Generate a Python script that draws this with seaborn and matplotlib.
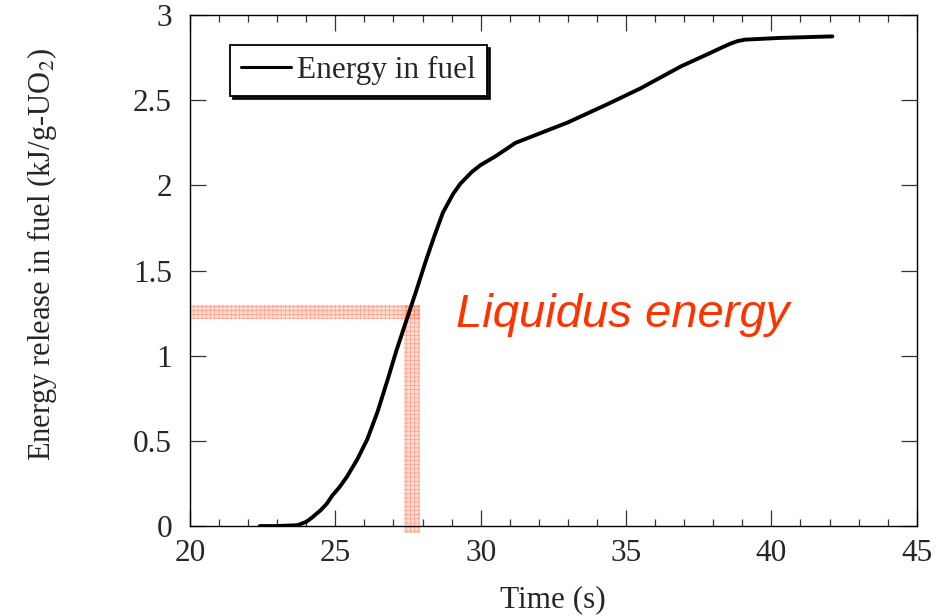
import matplotlib
matplotlib.use("Agg")
import matplotlib.pyplot as plt
from matplotlib.ticker import MultipleLocator
import pandas as pd
import seaborn as sns

# Fuel energy release versus time
time_s = [22.4, 23.0, 23.7, 24.0, 24.2, 24.5, 24.7, 24.9, 25.15, 25.4, 25.75,
          26.1, 26.45, 26.8, 27.1, 27.45, 27.8, 28.1, 28.4, 28.7, 29.05, 29.3,
          29.7, 30.0, 30.5, 31.2, 31.8, 33.0, 34.4, 35.5, 36.9, 37.8, 38.3,
          38.6, 38.85, 39.1, 40.3, 42.1]
energy = [0.0, 0.0, 0.005, 0.025, 0.05, 0.094, 0.13, 0.18, 0.23, 0.29, 0.39,
          0.51, 0.67, 0.86, 1.03, 1.21, 1.39, 1.55, 1.70, 1.84, 1.95, 2.01,
          2.08, 2.12, 2.17, 2.25, 2.29, 2.37, 2.48, 2.57, 2.70, 2.77, 2.81,
          2.833, 2.848, 2.856, 2.866, 2.875]

# Liquidus energy band and the time at which it is reached
liquidus_band = [1.214, 1.298]
liquidus_time = [27.35, 27.9]

x_ticks = [20, 25, 30, 35, 40, 45]
y_ticks = [0, 0.5, 1, 1.5, 2, 2.5, 3]
x_tick_labels = ["20", "25", "30", "35", "40", "45"]
y_tick_labels = ["0", "0.5", "1", "1.5", "2", "2.5", "3"]

sns.set_theme(style="ticks")
plt.rcParams["font.family"] = ["Liberation Serif", "DejaVu Serif"]
plt.rcParams["mathtext.fontset"] = "stix"
plt.rcParams["hatch.linewidth"] = 0.6

df = pd.DataFrame({"Time (s)": time_s, "Energy": energy})

fig = plt.figure(figsize=(9.49, 6.16), dpi=100)
ax = fig.add_axes([0.2002, 0.146, 0.7658, 0.8295])

# shaded liquidus guide bands
band_style = dict(facecolor=(1.0, 0.62, 0.52, 0.30), edgecolor=(1.0, 0.45, 0.33, 0.55),
                  hatch="++++", linewidth=0, zorder=1)
ax.fill_between([x_ticks[0], liquidus_time[1]], liquidus_band[0], liquidus_band[1],
                **band_style)
ax.fill_betweenx([-0.04, liquidus_band[1]], liquidus_time[0], liquidus_time[1],
                 clip_on=False, **band_style)

sns.lineplot(data=df, x="Time (s)", y="Energy", ax=ax, color="black",
             linewidth=2.8, estimator=None, label="Energy in fuel", zorder=3)

ax.text(29.15, 1.168, "Liquidus energy", color="#ff3300", fontsize=34,
        fontstyle="italic", family=["Liberation Sans", "DejaVu Sans"],
        va="baseline", ha="left")

ax.set_xlim(x_ticks[0], x_ticks[-1])
ax.set_ylim(y_ticks[0], y_ticks[-1])
ax.set_xticks(x_ticks)
ax.set_xticklabels(x_tick_labels)
ax.set_yticks(y_ticks)
ax.set_yticklabels(y_tick_labels)
ax.xaxis.set_minor_locator(MultipleLocator(1))

for side in ["top", "right", "left", "bottom"]:
    ax.spines[side].set_visible(True)
    ax.spines[side].set_linewidth(1.0)
    ax.spines[side].set_color("black")

ax.tick_params(which="both", direction="in", top=True, right=True,
               color="#333333", width=0.9)
ax.tick_params(which="major", length=11.5, labelsize=22.5, pad=9)
ax.tick_params(which="minor", length=5)
ax.tick_params(axis="y", which="major", pad=13)

ax.set_xlabel("Time (s)", fontsize=22.5, labelpad=13)
ax.set_ylabel("Energy release in fuel (kJ/g-UO$_2$)", fontsize=22)
ax.yaxis.set_label_coords(-0.18, 0.532)

leg = ax.legend(loc="upper left", bbox_to_anchor=(0.055, 0.941), borderaxespad=0,
                fontsize=22.5, frameon=True, fancybox=False,
                shadow={"color": "black", "alpha": 0.9},
                handlelength=1.6, handletextpad=0.2, borderpad=0.35)
leg.get_frame().set_edgecolor("black")
leg.get_frame().set_linewidth(1.3)
leg.get_lines()[0].set_linewidth(2.2)

fig.savefig("out.png", dpi=100)
